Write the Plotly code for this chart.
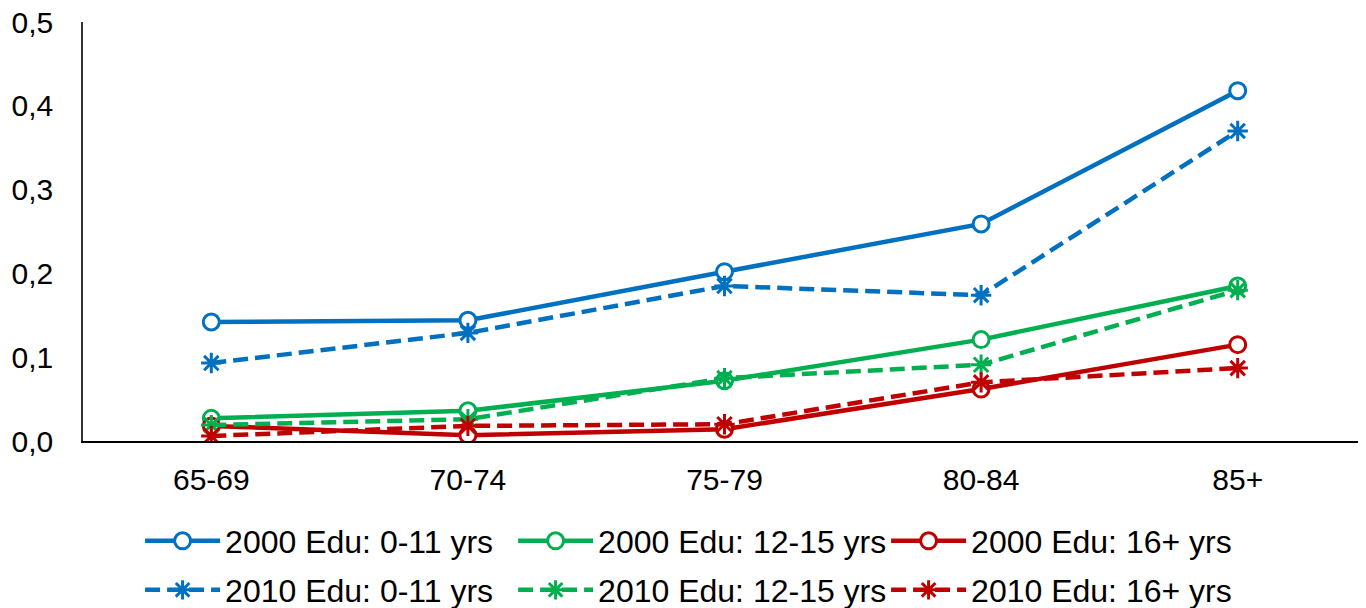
import plotly.graph_objects as go

categories = ["65-69", "70-74", "75-79", "80-84", "85+"]

edu2000_0_11 = [0.142, 0.144, 0.202, 0.259, 0.418]
edu2000_12_15 = [0.027, 0.036, 0.072, 0.121, 0.185]
edu2000_16 = [0.018, 0.007, 0.014, 0.062, 0.115]

edu2010_0_11 = [0.093, 0.129, 0.185, 0.174, 0.370]
edu2010_12_15 = [0.019, 0.026, 0.075, 0.091, 0.180]
edu2010_16 = [0.006, 0.018, 0.020, 0.070, 0.087]

y_ticks = [0.0, 0.1, 0.2, 0.3, 0.4, 0.5]

BLUE = "#0070C0"
GREEN = "#00B050"
RED = "#C00000"
FONT = "Liberation Sans, Arial, sans-serif"

series_2000 = [
    ("2000 Edu: 0-11 yrs", edu2000_0_11, BLUE),
    ("2000 Edu: 12-15 yrs", edu2000_12_15, GREEN),
    ("2000 Edu: 16+ yrs", edu2000_16, RED),
]
series_2010 = [
    ("2010 Edu: 0-11 yrs", edu2010_0_11, BLUE),
    ("2010 Edu: 12-15 yrs", edu2010_12_15, GREEN),
    ("2010 Edu: 16+ yrs", edu2010_16, RED),
]

fig = go.Figure()
for name, vals, col in series_2000:
    fig.add_trace(go.Scatter(
        x=categories, y=vals, name=name, mode="lines+markers",
        line=dict(color=col, width=4.5),
        marker=dict(symbol="circle", size=16, color="white",
                    line=dict(color=col, width=3)),
        legend="legend",
    ))
for name, vals, col in series_2010:
    fig.add_trace(go.Scatter(
        x=categories, y=vals, name=name, mode="lines+markers",
        line=dict(color=col, width=4.5, dash="15px,7px"),
        marker=dict(symbol="asterisk-open", size=17, color=col,
                    line=dict(color=col, width=3)),
        legend="legend2",
    ))

leg_common = dict(
    orientation="h", xanchor="left", yanchor="middle",
    font=dict(family=FONT, size=32, color="black"),
    itemwidth=75, entrywidth=283, entrywidthmode="pixels",
    bgcolor="rgba(0,0,0,0)", itemclick=False, itemdoubleclick=False,
)

fig.update_layout(
    width=1366, height=608,
    margin=dict(l=75, r=8, t=14, b=175, autoexpand=False),
    paper_bgcolor="white", plot_bgcolor="white",
    separators=",.",
    font=dict(family=FONT, size=30, color="black"),
    showlegend=True,
    legend=dict(x=0.0445, y=-0.2387, **leg_common),
    legend2=dict(x=0.0445, y=-0.3556, **leg_common),
    xaxis=dict(
        type="category", range=[-0.5, 4.5], automargin=False,
        showline=True, linecolor="black", linewidth=2,
        showgrid=False, zeroline=False, ticks="",
        tickfont=dict(family=FONT, size=30, color="black"),
        ticklabelstandoff=11, ticklabeloverflow="allow",
    ),
    yaxis=dict(
        range=[0, 0.5], tickvals=y_ticks, tickformat=".1f", automargin=False,
        showline=True, linecolor="#333333", linewidth=1.5,
        showgrid=False, zeroline=False, ticks="",
        tickfont=dict(family=FONT, size=30, color="black"),
        ticklabelstandoff=22, ticklabeloverflow="allow",
    ),
)

fig.write_html("out.html")
